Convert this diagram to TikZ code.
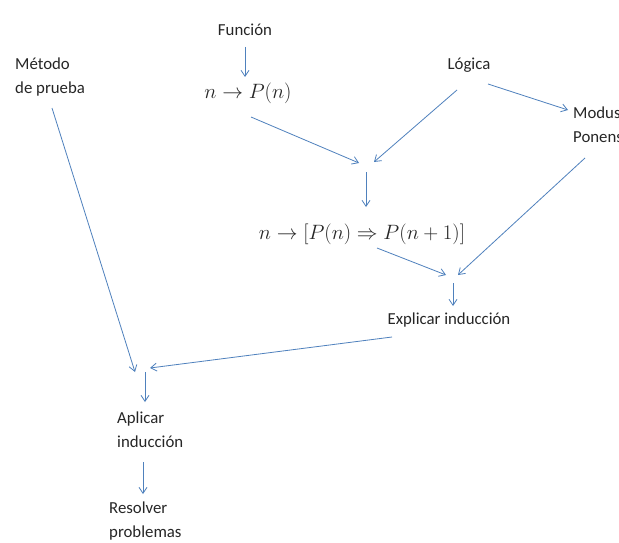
\documentclass[tikz,border=0pt]{standalone}
\usepackage{fontspec}
\setmainfont{Carlito}
\usetikzlibrary{arrows.meta}
\definecolor{arrowblue}{HTML}{4F81BD}
\tikzset{
  lbl/.style={inner sep=0pt, font=\fontsize{16.8}{24}\selectfont, text=black!85},
  lblL/.style={lbl, anchor=west, align=left},
  mathlbl/.style={inner sep=0pt, text=black!85},
  conn/.style={draw=arrowblue, line width=0.8pt, -{Straight Barb[length=6pt,width=8pt]}}
}
\begin{document}
\begin{tikzpicture}[x=1pt,y=-1pt]
\useasboundingbox (0,0) rectangle (619,543);
\fill[white] (0,0) rectangle (619,543);
% nodes
\node[lbl] (fun) at (245,30) {Función};
\node[mathlbl, font=\fontsize{22.3}{26}\selectfont] (pn) at (248,93) {$n\rightarrow P(n)$};
\node[lbl] (log) at (469,65) {Lógica};
\node[lblL] (met) at (15,77) {Método\\de prueba};
\node[lblL] (mod) at (573,125) {Modus\\Ponens};
\node[mathlbl, font=\fontsize{21.8}{26}\selectfont] (pn1) at (362,234) {$n\rightarrow\left[P(n)\Rightarrow P(n+1)\right]$};
\node[lbl] (exp) at (449,320) {Explicar inducción};
\node[lblL] (apl) at (117,430) {Aplicar\\inducción};
\node[lblL] (res) at (109,521) {Resolver\\problemas};
% free connector ends
\coordinate (a1) at (251,117); \coordinate (a1e) at (359,163);
\coordinate (a2) at (457,90);  \coordinate (a2e) at (374,162);
\coordinate (a3) at (366,172); \coordinate (a3e) at (366,207);
\coordinate (a4) at (488,84);  \coordinate (a4e) at (568,110);
\coordinate (a5) at (377,248); \coordinate (a5e) at (446,275);
\coordinate (a6) at (585,158); \coordinate (a6e) at (458,275);
\coordinate (a7) at (453,283); \coordinate (a7e) at (453,306);
\coordinate (a8) at (392,337); \coordinate (a8e) at (150,368);
\coordinate (a9) at (52,108);  \coordinate (a9e) at (135,372);
\coordinate (a10) at (145,372); \coordinate (a10e) at (145,402);
\coordinate (a11) at (143,462); \coordinate (a11e) at (143,494);
\coordinate (a0) at (245,47); \coordinate (a0e) at (245,77);
% connectors
\draw[conn] (a0) -- (a0e);
\draw[conn] (a1) -- (a1e);
\draw[conn] (a2) -- (a2e);
\draw[conn] (a3) -- (a3e);
\draw[conn] (a4) -- (a4e);
\draw[conn] (a5) -- (a5e);
\draw[conn] (a6) -- (a6e);
\draw[conn] (a7) -- (a7e);
\draw[conn] (a8) -- (a8e);
\draw[conn] (a9) -- (a9e);
\draw[conn] (a10) -- (a10e);
\draw[conn] (a11) -- (a11e);
\end{tikzpicture}
\end{document}
